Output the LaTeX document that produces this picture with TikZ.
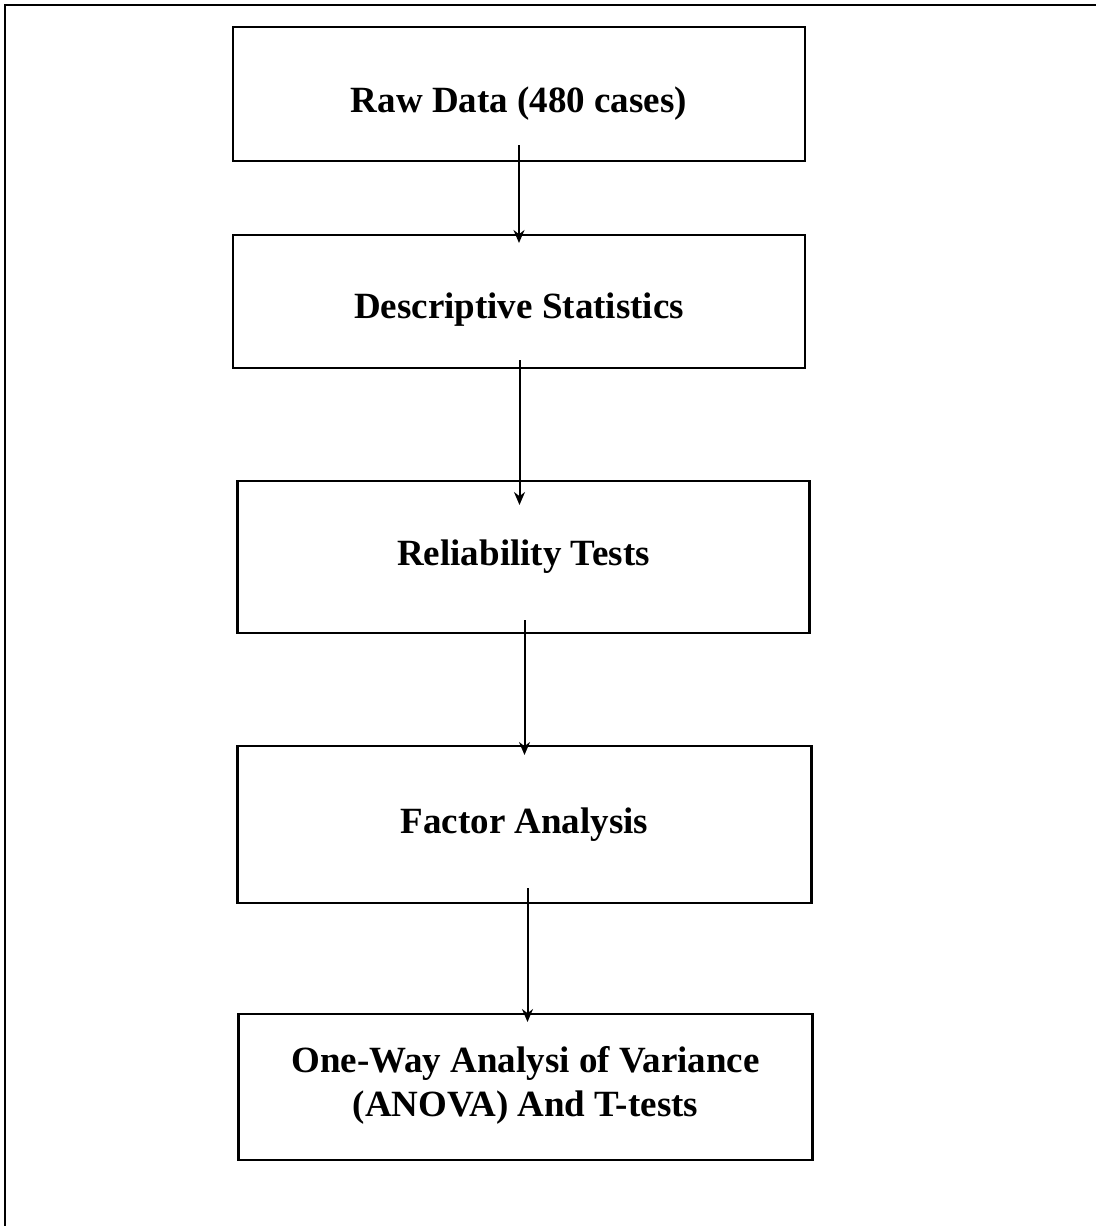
\documentclass[tikz,border=0pt]{standalone}
\usepackage{fontspec}
\setmainfont{Liberation Serif}
\usepackage{tikz}
\usetikzlibrary{arrows.meta, positioning}
\tikzstyle{arrow} = [line width=1pt,->,>={Stealth[length=6.5pt,width=5.5pt]}]
\tikzstyle{stage} = [rectangle, draw=black, line width=1.2pt, outer sep=0pt, minimum width=286pt, text centered, align=center, font=\fontsize{18.5}{22}\selectfont\bfseries]
\tikzstyle{frame} = [line width=1pt]

\begin{document}
\begin{tikzpicture}[x=0.5pt, y=-0.5pt]
\useasboundingbox (0,0) rectangle (1096,1226);

% Page frame
\draw [frame] (1096,5) -- (5,5) -- (5,1226);

% Nodes for Flowchart
\node (raw) [stage, minimum height=67pt, text height=22pt, text depth=4pt] at (519,94) {Raw Data (480 cases)};
\node (desc) [stage, minimum height=66.5pt, text height=20.5pt, text depth=4pt, below=37pt of raw] {Descriptive Statistics};
\node (rel) [stage, minimum height=76pt, below=56.5pt of desc, xshift=2.25pt] {Reliability Tests};
\node (fact) [stage, minimum height=78.5pt, minimum width=287pt, below=56.5pt of rel, xshift=0.5pt] {Factor Analysis};
\node (anova) [stage, minimum height=73pt, minimum width=287pt, below=55.5pt of fact, xshift=0.5pt, text depth=6pt] {One-Way Analysi of Variance\\(ANOVA) And T-tests};

% Connecting the Nodes with Arrows
\draw [arrow] ([yshift=8pt]raw.south) -- ([yshift=-4pt]desc.north);
\draw [arrow] ([yshift=4pt,xshift=0.25pt]desc.south) -- ([yshift=-12pt,xshift=-2pt]rel.north);
\draw [arrow] ([yshift=6.5pt,xshift=0.5pt]rel.south) -- ([yshift=-4.5pt]fact.north);
\draw [arrow] ([yshift=7.5pt,xshift=1.5pt]fact.south) -- ([yshift=-4pt,xshift=1pt]anova.north);

\end{tikzpicture}
\end{document}
